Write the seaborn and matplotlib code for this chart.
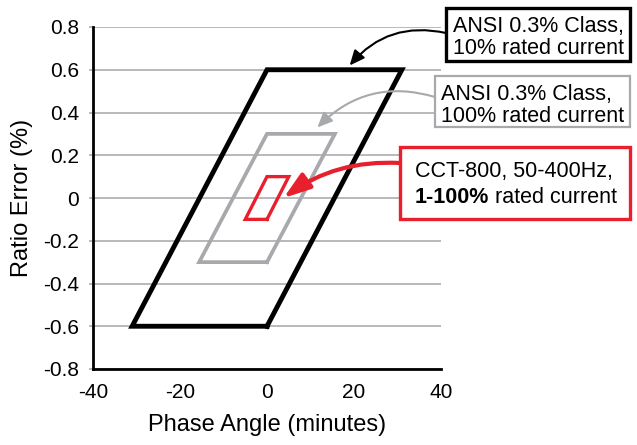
import matplotlib
matplotlib.use("Agg")
import pandas as pd
import matplotlib.pyplot as plt
import seaborn as sns
from matplotlib.patches import Rectangle

# Limites de precision (angle de phase en minutes, erreur de rapport en %)
class10_phase = [0, -31, 0, 31, 0]
class10_ratio = [-0.6, -0.6, 0.6, 0.6, -0.6]
class100_phase = [0, -15.6, 0, 15.6, 0]
class100_ratio = [-0.3, -0.3, 0.3, 0.3, -0.3]
cct_phase = [0, -5, 0, 5, 0]
cct_ratio = [-0.1, -0.1, 0.1, 0.1, -0.1]

x_ticks = [-40, -20, 0, 20, 40]
y_ticks = [-0.8, -0.6, -0.4, -0.2, 0, 0.2, 0.4, 0.6, 0.8]
y_tick_labels = ["-0.8", "-0.6", "-0.4", "-0.2", "0", "0.2", "0.4", "0.6", "0.8"]

RED = "#e8202e"
GRAY = "#a7a9ac"
GRID = "#a6a6a6"

sns.set_style("white")
plt.rcParams["font.family"] = ["Liberation Sans", "DejaVu Sans"]
plt.rcParams["axes.unicode_minus"] = False
plt.rcParams["text.color"] = "black"
plt.rcParams["axes.labelcolor"] = "black"
plt.rcParams["xtick.labelcolor"] = "black"
plt.rcParams["ytick.labelcolor"] = "black"

W, H = 637, 445


def px(x, y):
    # position en pixels de l'image -> fraction de la figure
    return x / W, 1 - y / H


fig = plt.figure(figsize=(W / 100, H / 100), dpi=100)
ax = fig.add_axes([93 / W, 76 / H, 348 / W, 342 / H])

shapes = [
    (class10_phase, class10_ratio, "black", 3.5),
    (class100_phase, class100_ratio, GRAY, 2.7),
    (cct_phase, cct_ratio, RED, 2.4),
]
for xs, ys, col, lw in shapes:
    df = pd.DataFrame({"phase": xs, "ratio": ys})
    sns.lineplot(data=df, x="phase", y="ratio", sort=False, estimator=None,
                 color=col, lw=lw, ax=ax, solid_joinstyle="miter",
                 solid_capstyle="projecting", zorder=3)

ax.set_xlim(-40, 40)
ax.set_ylim(-0.8, 0.8)
ax.set_xticks(x_ticks)
ax.set_xticklabels([str(v) for v in x_ticks])
ax.set_yticks(y_ticks)
ax.set_yticklabels(y_tick_labels)
ax.yaxis.grid(True, color=GRID, lw=1.1)
ax.xaxis.grid(False)
ax.set_axisbelow(True)
for s in ["top", "right"]:
    ax.spines[s].set_visible(False)
for s in ["left", "bottom"]:
    ax.spines[s].set_color("black")
    ax.spines[s].set_linewidth(2)
ax.tick_params(axis="y", left=True, length=3, width=1.1, color=GRID,
               labelsize=15, pad=7, labelcolor="black")
ax.tick_params(axis="x", length=0, labelsize=15, pad=10, labelcolor="black")
ax.set_xlabel("Phase Angle (minutes)", fontsize=17, labelpad=9)
ax.set_ylabel("Ratio Error (%)", fontsize=17, labelpad=7)

# Cadres des annotations
boxes = [
    (446, 8, 630, 61, "black", 2.4),
    (435, 76, 630, 127, GRAY, 1.6),
    (400, 147, 630, 219, RED, 2.4),
]
for x0, y0, x1, y1, col, lw in boxes:
    fig.add_artist(Rectangle(px(x0, y1), (x1 - x0) / W, (y1 - y0) / H,
                             transform=fig.transFigure, facecolor="white",
                             edgecolor=col, lw=lw, zorder=5))

fs = 15.5
fig.text(*px(453, 32), "ANSI 0.3% Class,", fontsize=fs, va="baseline", zorder=6)
fig.text(*px(453, 54), "10% rated current", fontsize=fs, va="baseline", zorder=6)
fig.text(*px(441, 100), "ANSI 0.3% Class,", fontsize=fs, va="baseline", zorder=6)
fig.text(*px(441, 122), "100% rated current", fontsize=fs, va="baseline", zorder=6)
fig.text(*px(415, 177), "CCT-800, 50-400Hz,", fontsize=fs, va="baseline", zorder=6)
t_bold = fig.text(*px(415, 203), "1-100%", fontsize=fs, va="baseline",
                  fontweight="bold", zorder=6)
fig.canvas.draw()
bb = t_bold.get_window_extent(fig.canvas.get_renderer())
fig.text(bb.x1 / W, 1 - 203 / H, " rated current", fontsize=fs,
         va="baseline", zorder=6)

# Fleches vers les zones
arrows = [
    ((19, 0.62), (446, H - 33), "black", 1.5, 20, 0.45, 0.2, 0.3),
    ((11.6, 0.33), (435, H - 97), GRAY, 1.5, 20, 0.45, 0.2, 0.3),
    ((3.8, 0.0), (400, H - 163), RED, 3.0, 25, 0.65, 0.22, 0.18),
]
for xy, xyt, col, lw, ms, hl, hw, rad in arrows:
    ax.annotate("", xy=xy, xytext=xyt, textcoords="figure pixels",
                annotation_clip=False, zorder=7,
                arrowprops=dict(arrowstyle=f"-|>,head_length={hl},head_width={hw}",
                                connectionstyle=f"arc3,rad={rad}",
                                color=col, lw=lw, mutation_scale=ms,
                                shrinkA=0, shrinkB=0))

fig.savefig("out.png", dpi=100)
